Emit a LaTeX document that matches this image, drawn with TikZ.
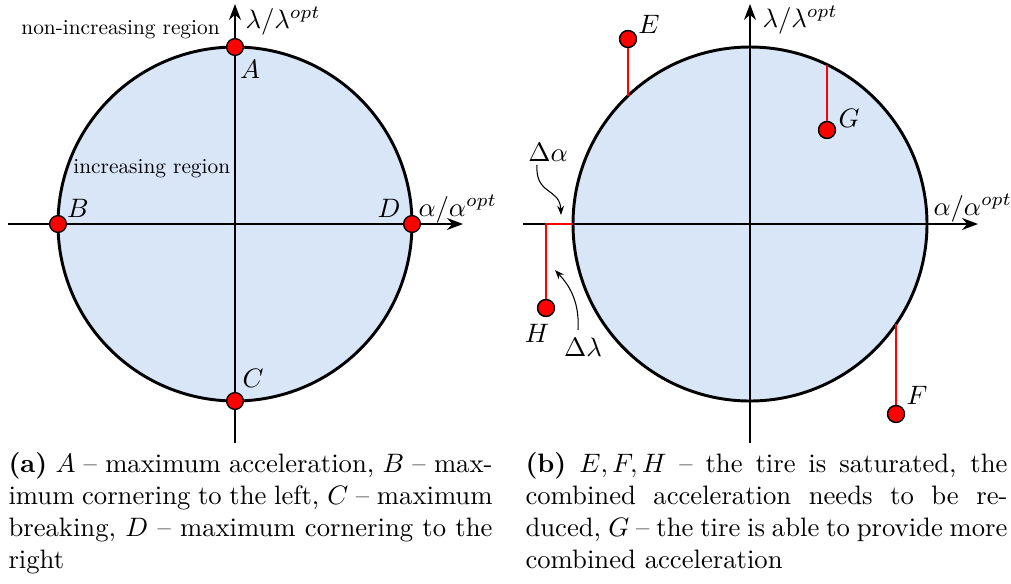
\documentclass[tikz,border=0pt]{standalone}
\usepackage{amsmath}
\usetikzlibrary{
  arrows.meta,
  positioning,
  calc
}
\definecolor{regionblue}{RGB}{216,230,248}

\begin{document}
\begin{tikzpicture}[
  x=0.375pt, y=-0.375pt,
  tirecircle/.style={draw=black, line width=1.1pt, fill=regionblue},
  axis/.style={-{Stealth[length=6pt, width=4.5pt]}, black, line width=0.5pt},
  slack/.style={red, line width=1pt},
  point/.style={
    circle, draw=black, fill=red, line width=0.5pt,
    inner sep=0pt, minimum size=6.3pt
  },
  note/.style={-{Stealth[length=3.5pt, width=2.6pt]}, black, line width=0.4pt},
  region/.style={inner sep=0pt, scale=0.8, transform shape},
  caption/.style={anchor=north west, inner sep=0pt, align=justify},
]
\useasboundingbox (0,0) rectangle (1011,583);

% (a) Friction circle with the extreme points
\coordinate (oL) at (235,224);
\draw[tirecircle] (oL) circle[radius=177];
\coordinate (xL0) at (8,224);
\coordinate (xL1) at (463,224);
\coordinate (yL0) at (235,443);
\coordinate (yL1) at (235,4);
\draw[axis] (xL0) -- (xL1);
\draw[axis] (yL0) -- (yL1);

\node[point] (A) at (235,47) {};
\node[point] (B) at (58,224) {};
\node[point] (C) at (235,401) {};
\node[point] (D) at (412,224) {};
\node at (250,69) {$A$};
\node at (78,208) {$B$};
\node at (253,378) {$C$};
\node at (389,208) {$D$};

\node[anchor=base west, inner sep=0pt] at (245,28) {$\lambda/\lambda^{opt}$};
\node[anchor=base west, inner sep=0pt] at (418,216) {$\alpha/\alpha^{opt}$};
\node[region, anchor=base west] at (21,34) {non-increasing region};
\node[region, anchor=base west] at (73,173) {increasing region};

% (b) Points outside and inside the circle
\coordinate (oR) at (750,224);
\draw[tirecircle] (oR) circle[radius=177];
\coordinate (xR0) at (523,224);
\coordinate (xR1) at (978,224);
\coordinate (yR0) at (750,443);
\coordinate (yR1) at (750,4);
\draw[axis] (xR0) -- (xR1);
\draw[axis] (yR0) -- (yR1);

\coordinate (eC) at (628,96);
\coordinate (gC) at (827,65);
\coordinate (fC) at (896,324);
\coordinate (hK) at (546,224);
\coordinate (hC) at (573,224);
\node[point] (E) at (628,39) {};
\node[point] (G) at (827,130) {};
\node[point] (F) at (896,414) {};
\node[point] (H) at (546,308) {};
\draw[slack] (E) -- (eC);
\draw[slack] (G) -- (gC);
\draw[slack] (F) -- (fC);
\draw[slack] (H) -- (hK) -- (hC);
\node[point] at (E) {};
\node[point] at (G) {};
\node[point] at (F) {};
\node[point] at (H) {};
\node at (649,24) {$E$};
\node at (849,118) {$G$};
\node at (917,395) {$F$};
\node at (537,333) {$H$};

\node (dalpha) at (548,152) {$\Delta\alpha$};
\node (dlambda) at (583,347) {$\Delta\lambda$};
\coordinate (dalphaTip) at (561,215);
\coordinate (dlambdaTip) at (555,270);
\draw[note] (537,165) .. controls (535,195) and (560,188) .. (dalphaTip);
\draw[note] (578,330) .. controls (580,298) and (566,282) .. (dlambdaTip);

\node[anchor=base west, inner sep=0pt] at (762,27) {$\lambda/\lambda^{opt}$};
\node[anchor=base west, inner sep=0pt] at (933,215) {$\alpha/\alpha^{opt}$};

% Captions
\node[caption, text width=181.5pt] (capA) at (8,452)
  {\textbf{(a)} $A$ -- maximum acceleration, $B$ -- max-\linebreak
   imum cornering to the left, $C$ -- maximum\linebreak
   breaking, $D$ -- maximum cornering to the\linebreak right};
\node[caption, text width=180.75pt] (capB) at (525,452)
  {\textbf{(b)}\ $E,F,H$ -- the tire is saturated, the\linebreak
   combined acceleration needs to be re-\linebreak
   duced, $G$ -- the tire is able to provide more\linebreak
   combined acceleration};

\end{tikzpicture}
\end{document}
